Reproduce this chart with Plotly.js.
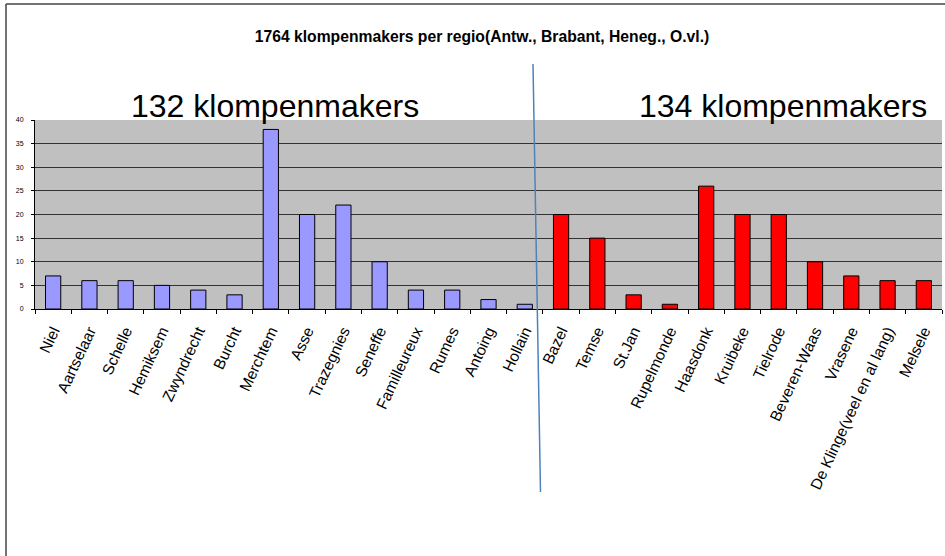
<!DOCTYPE html>
<html>
<head>
<meta charset="utf-8">
<script src="https://cdn.plot.ly/plotly-3.0.1.min.js"></script>
<style>html,body{margin:0;padding:0;background:#fff;}#chart{width:945px;height:556px;}</style>
</head>
<body>
<div id="chart"></div>
<script>
const westCategories = ["Niel","Aartselaar","Schelle","Hemiksem","Zwyndrecht","Burcht","Merchtem","Asse","Trazegnies","Seneffe","Familleureux","Rumes","Antoing","Hollain"];
const westValues = [7,6,6,5,4,3,38,20,22,10,4,4,2,1];
const eastCategories = ["Bazel","Temse","St.Jan","Rupelmonde","Haasdonk","Kruibeke","Tielrode","Beveren-Waas","Vrasene","De Klinge(veel en al lang)","Melsele"];
const eastValues = [20,15,3,1,26,20,20,10,7,6,6];
const chartTitle = "1764 klompenmakers per regio(Antw., Brabant, Heneg., O.vl.)";
const westLabel = "132 klompenmakers";
const eastLabel = "134 klompenmakers";

const W = 945, H = 556;
const m = {l:35, r:3, t:120, b:247};
const pw = W - m.l - m.r, ph = H - m.t - m.b;
function px(x){ return (x - m.l) / pw; }
function py(y){ return (H - m.b - y) / ph; }

const traces = [
  {type:'bar', x:westCategories, y:westValues, marker:{color:'#9999FF', line:{color:'#000', width:1}}, hoverinfo:'x+y'},
  {type:'bar', x:eastCategories, y:eastValues, marker:{color:'#FF0000', line:{color:'#000', width:1}}, hoverinfo:'x+y'}
];

const layout = {
  width: W, height: H,
  margin: m,
  paper_bgcolor: '#fff',
  plot_bgcolor: '#C0C0C0',
  showlegend: false,
  barmode: 'overlay',
  bargap: 0.58,
  font: {family: '"Liberation Sans", Arial, sans-serif', color: '#000'},
  title: {text: '<b>' + chartTitle + '</b>', font: {size: 15.7, color:'#000'}, x: px(482), xref:'paper', xanchor:'center', y: 1 - 37/H, yanchor:'middle'},
  xaxis: {
    type:'category',
    categoryorder:'array',
    categoryarray: westCategories.concat(eastCategories),
    tickangle: -65,
    tickson: 'boundaries',
    ticks: 'outside', ticklen: 4, tickcolor:'#000',
    ticklabelstandoff: 6,
    showline: true, linecolor:'#000', linewidth:1,
    tickfont: {size: 15.5, color:'#000'},
    showgrid: false,
    fixedrange: true
  },
  yaxis: {
    range: [0, 40], dtick: 5,
    tickfont: {size: 7, color:'#000'},
    ticks: 'outside', ticklen: 3, tickcolor:'#000',
    ticklabelstandoff: 6,
    showline: true, linecolor:'#000', linewidth:1,
    gridcolor: '#333', gridwidth: 1,
    zeroline: false,
    fixedrange: true
  },
  annotations: [
    {text: westLabel, xref:'paper', yref:'paper', x: px(275), y: py(106), xanchor:'center', yanchor:'middle', showarrow:false, font:{size:32, color:'#000'}},
    {text: eastLabel, xref:'paper', yref:'paper', x: px(783), y: py(106), xanchor:'center', yanchor:'middle', showarrow:false, font:{size:32, color:'#000'}}
  ],
  shapes: [
    {type:'line', xref:'paper', yref:'paper', x0: px(533), y0: py(64), x1: px(540.5), y1: py(492), line:{color:'#4F81BD', width:1.5}},
    {type:'line', xref:'paper', yref:'paper', x0: px(6), y0: py(4), x1: px(945), y1: py(4), line:{color:'#444', width:1.5}},
    {type:'line', xref:'paper', yref:'paper', x0: px(6), y0: py(4), x1: px(6), y1: py(556), line:{color:'#444', width:1.5}}
  ]
};

Plotly.newPlot('chart', traces, layout, {displayModeBar:false, staticPlot:true});
</script>
</body>
</html>
